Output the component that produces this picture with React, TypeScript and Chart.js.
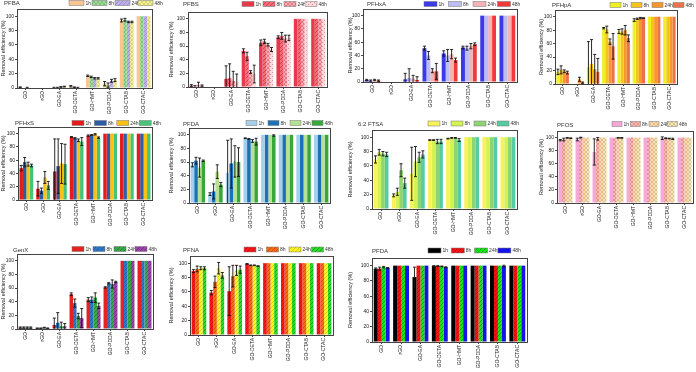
import React, { useEffect, useRef } from "react";
import { Chart, registerables } from "chart.js";
Chart.register(...registerables);
Chart.defaults.font.family = "'Liberation Sans', Arial, sans-serif";

const categories = ["GO", "rGO", "GO-EA", "GO-DETA", "GO-HMT", "GO-PDDA", "GO-CTAB", "GO-CTAC"];
const timeLabels = ["1h", "8h", "24h", "48h"];
const yTickValues = [0, 20, 40, 60, 80, 100];
const yAxisTitle = "Removal efficiency (%)";

// ---- values (rows: 1h, 8h, 24h, 48h) and error bars ----
const pfbaValues = [
  [1, 0, 0.5, 2.5, 17, 6, 94, 100],
  [0, 0, 0.5, 1, 15.5, 4, 95, 100],
  [0.5, 0, 1.5, 0.5, 13.5, 10, 92, 100],
  [0, 0, 2, 0, 13.5, 11, 92, 100],
];
const pfbaErrors = [
  [0.5, 0, 0.5, 1, 1, 3, 2, 0],
  [0, 0, 0.5, 0.5, 1, 3, 2, 0],
  [0.5, 0, 0.5, 0.5, 1, 2, 1, 0],
  [0, 0, 0.5, 0, 1, 2, 1, 0],
];
const pfbsValues = [
  [2, 0, 12, 53, 65, 73, 100, 100],
  [1, 0, 13, 45, 67, 75, 100, 100],
  [3, 0, 9, 22, 62, 71, 100, 100],
  [2, 0, 7, 19, 55, 72, 100, 100],
];
const pfbsErrors = [
  [1.5, 0, 19, 3, 4, 2, 0, 0],
  [1, 0, 21, 6, 3, 5, 0, 0],
  [4, 0, 14, 2, 2, 5, 0, 0],
  [1, 0, 12, 13, 3, 4, 0, 0],
];
const pfhxaValues = [
  [3, 0, 4, 51, 43, 52, 100, 100],
  [2, 0, 6, 40, 40, 51, 100, 100],
  [3, 0.5, 5, 17, 42, 54, 100, 100],
  [2, 0, 3, 16, 33, 57, 100, 100],
];
const pfhxaErrors = [
  [1, 0, 9, 3, 4, 2, 0, 0],
  [1, 0, 14, 6, 9, 3, 0, 0],
  [1, 0, 5, 3, 7, 4, 0, 0],
  [1, 0, 5, 12, 3, 2, 0, 0],
];
const pfhpaValues = [
  [18, 1, 25, 83, 78, 95, 100, 100],
  [21, 1, 30, 81, 78, 97, 100, 100],
  [19, 7, 22, 63, 80, 98, 100, 100],
  [17, 2, 18, 56, 68, 98, 100, 100],
];
const pfhpaErrors = [
  [4, 0, 38, 1, 3, 2, 0, 0],
  [6, 0, 36, 5, 4, 1, 0, 0],
  [2, 3, 22, 4, 7, 1, 0, 0],
  [2, 1, 20, 19, 5, 0.5, 0, 0],
];
const pfhxsValues = [
  [48, 17, 43, 95, 97, 100, 100, 100],
  [57, 14, 51, 93, 98, 100, 100, 100],
  [54, 34, 55, 90, 99, 100, 100, 100],
  [52, 22, 54, 88, 94, 100, 100, 100],
];
const pfhxsErrors = [
  [4, 11, 49, 0.5, 1, 0, 0, 0],
  [7, 4, 41, 1, 0.5, 0, 0, 0],
  [3, 9, 30, 2, 1, 0, 0, 0],
  [2, 6, 30, 6, 1, 0, 0, 0],
];
const pfdaValues = [
  [56, 13, 44, 95, 100, 100, 100, 100],
  [62, 17, 58, 94, 100, 100, 100, 100],
  [52, 46, 61, 91, 100, 100, 100, 100],
  [62, 27, 60, 90, 99, 100, 100, 100],
];
const pfdaErrors = [
  [3, 2, 48, 0.5, 0, 0, 0, 0],
  [5, 11, 36, 0.5, 0, 0, 0, 0],
  [14, 10, 23, 2, 0, 0, 0, 0],
  [1, 3, 21, 5, 1, 0, 0, 0],
];
const ftsaValues = [
  [69, 19, 49, 96, 98, 100, 100, 100],
  [79, 24, 66, 96, 99, 100, 100, 100],
  [77, 54, 72, 94, 99, 100, 100, 100],
  [76, 36, 76, 94, 96, 100, 100, 100],
];
const ftsaErrors = [
  [5, 2, 37, 0.5, 0.5, 0, 0, 0],
  [4, 5, 21, 0.5, 0.5, 0, 0, 0],
  [3, 9, 7, 3, 0.5, 0, 0, 0],
  [3, 7, 5, 3, 2, 0, 0, 0],
];
const pfosValues = [
  [96, 97, 78, 100, 100, 100, 99, 100],
  [97, 100, 98, 100, 100, 100, 99, 100],
  [99.5, 100, 100, 99.5, 100, 100, 98.5, 100],
  [99, 100, 100, 99.5, 100, 100, 98, 100],
];
const pfosErrors = [
  [1, 2, 20, 0, 0, 0, 2, 0],
  [2, 0.5, 2, 0, 0, 0, 0.5, 0],
  [0.5, 0, 0, 0.5, 0, 0, 0.5, 0],
  [0.5, 0, 0, 0.5, 0, 0, 1, 0],
];
const genxValues = [
  [2, 1, 6, 51, 43, 61, 100, 100],
  [2, 1, 9, 38, 43, 67, 100, 100],
  [2, 2, 4, 19, 46, 66, 100, 100],
  [2, 1, 4, 16, 34, 69, 100, 100],
];
const genxErrors = [
  [1, 0.5, 10, 2, 3, 1, 0, 0],
  [1, 0.5, 15, 6, 4, 1, 0, 0],
  [1, 0.5, 6, 4, 7, 6, 0, 0],
  [1, 0.5, 4, 14, 4, 1, 0, 0],
];
const pfnaValues = [
  [89, 59, 61, 99, 100, 100, 100, 100],
  [92, 74, 82, 97, 100, 100, 100, 100],
  [93, 93, 90, 97, 100, 100, 100, 100],
  [93, 83, 91, 96, 100, 100, 100, 100],
];
const pfnaErrors = [
  [2, 3, 34, 0.5, 0, 0, 0, 0],
  [4, 8, 15, 0.5, 0, 0, 0, 0],
  [2, 8, 7, 0.5, 0, 0, 0, 0],
  [2, 4, 5, 0.5, 0, 0, 0, 0],
];
const pfda2Values = [
  [96, 100, 85, 99.5, 100, 100, 100, 100],
  [96, 100, 100, 99.5, 100, 100, 100, 100],
  [98, 100, 100, 99, 100, 100, 100, 100],
  [97, 100, 100, 98, 100, 100, 99.5, 100],
];
const pfda2Errors = [
  [1, 0, 13, 0.5, 0, 0, 0, 0],
  [2, 0, 0, 0.5, 0, 0, 0, 0],
  [1, 0, 0, 0.5, 0, 0, 0, 0],
  [0.5, 0, 0, 0.5, 0, 0, 1, 0],
];

type FillSpec = [string, string, string?];

interface PanelCfg {
  name: string;
  values: number[][];
  errors: number[][];
  fills: FillSpec[];
  box: [number, number, number, number]; // canvas l,t,r,b
  plot: [number, number, number, number]; // plot l,t(=110),r,b(=0)
  title: [number, number];
  legend: [number, number, number, number]; // x, y, step, swatch width
}

const COLS = [0, 168, 347, 538, 696];
const ROWS = [0, 116, 243, 372];

const panels: PanelCfg[] = [
  {
    name: "PFBA", values: pfbaValues, errors: pfbaErrors,
    fills: [["solid", "#F9C593"], ["cross", "#A2D99C", "#6FBF6C"], ["diag", "#BEB0E6", "#9886D2"], ["cross", "#F3EF9A", "#D6CE5E"]],
    box: [COLS[0], ROWS[0], COLS[1], ROWS[1]], plot: [17, 9, 152, 88], title: [4, 3], legend: [69, 3, 23, 15],
  },
  {
    name: "PFBS", values: pfbsValues, errors: pfbsErrors,
    fills: [["solid", "#E8394A"], ["diag", "#EF6C7A", "#D63444"], ["cross", "#F4AEB4", "#E06A76"], ["dots", "#FAD8DB", "#E8949C"]],
    box: [COLS[1], ROWS[0], COLS[2], ROWS[1]], plot: [188, 12, 327, 87], title: [183, 4], legend: [242, 4, 21, 12],
  },
  {
    name: "PFHxA", values: pfhxaValues, errors: pfhxaErrors,
    fills: [["solid", "#3A3AE8"], ["solid", "#BDBDF2"], ["solid", "#F5B4B4"], ["solid", "#F23838"]],
    box: [COLS[2], ROWS[0], COLS[3], ROWS[1]], plot: [363, 9, 517, 82], title: [367, 4], legend: [424, 4, 24.5, 13],
  },
  {
    name: "PFHpA", values: pfhpaValues, errors: pfhpaErrors,
    fills: [["solid", "#EEF024"], ["solid", "#F6C21C"], ["solid", "#F5962E"], ["solid", "#EF714A"]],
    box: [COLS[3], ROWS[0], COLS[4], ROWS[1]], plot: [555, 10, 677, 84], title: [552, 5], legend: [610, 5, 21, 11],
  },
  {
    name: "PFHxS", values: pfhxsValues, errors: pfhxsErrors,
    fills: [["solid", "#E51A1A"], ["solid", "#2D5DA5"], ["solid", "#F9C112"], ["solid", "#45C477"]],
    box: [COLS[0], ROWS[1], COLS[1], ROWS[2]], plot: [18, 127, 152, 200], title: [15, 123], legend: [72, 123, 22.4, 12],
  },
  {
    name: "PFDA", values: pfdaValues, errors: pfdaErrors,
    fills: [["solid", "#A6CFEA"], ["solid", "#1C72B8"], ["solid", "#B4E195"], ["solid", "#36A83A"]],
    box: [COLS[1], ROWS[1], COLS[2], ROWS[2]], plot: [189, 128, 330, 203], title: [183, 124], legend: [246, 123, 22, 11],
  },
  {
    name: "6:2 FTSA", values: ftsaValues, errors: ftsaErrors,
    fills: [["solid", "#F9F25A"], ["solid", "#D4F156"], ["solid", "#8ED474"], ["solid", "#57CBA2"]],
    box: [COLS[2], ROWS[1], COLS[3], ROWS[2]], plot: [372, 130, 517, 209], title: [358, 124], legend: [428, 123.5, 23, 12],
  },
  {
    name: "PFOS", values: pfosValues, errors: pfosErrors,
    fills: [["solid", "#F6A8D8"], ["cross", "#F4BCB4", "#E08A80"], ["cross", "#FADBB6", "#E6B47E"], ["cross", "#F3E6BC", "#D4BC84"]],
    box: [COLS[3], ROWS[1], COLS[4], ROWS[2]], plot: [557, 131, 693, 203], title: [557, 125], legend: [612, 124, 18.5, 10],
  },
  {
    name: "GenX", values: genxValues, errors: genxErrors,
    fills: [["solid", "#E42222"], ["diag", "#3078C6", "#1E5A9E"], ["diag", "#38A848", "#207E30"], ["diag", "#9646A6", "#6E2A80"]],
    box: [COLS[0], ROWS[2], COLS[1], ROWS[3]], plot: [17, 254, 153, 329], title: [13, 250], legend: [72, 249, 21, 12],
  },
  {
    name: "PFNA", values: pfnaValues, errors: pfnaErrors,
    fills: [["diag", "#F41818", "#D80808"], ["diag", "#F26E14", "#D04400"], ["diag", "#F8F42C", "#DCC000"], ["diag", "#2ADA2A", "#12A012"]],
    box: [COLS[1], ROWS[2], COLS[2], ROWS[3]], plot: [190, 256, 333, 335], title: [183, 250], legend: [244, 249.5, 22.5, 12],
  },
  {
    name: "PFDA", values: pfda2Values, errors: pfda2Errors,
    fills: [["solid", "#000000"], ["diag", "#F01414", "#C80000"], ["diag", "#18E418", "#0A9A0A"], ["solid", "#1414E6"]],
    box: [COLS[2], ROWS[2], 580, ROWS[3]], plot: [372, 258, 527, 342], title: [372, 251], legend: [428, 250.5, 23.3, 13],
  },
];

function makeFill(spec: FillSpec): string | CanvasPattern {
  const [type, bg, fg] = spec;
  if (type === "solid") return bg;
  const c = document.createElement("canvas");
  const s = 4;
  c.width = s;
  c.height = s;
  const g = c.getContext("2d")!;
  g.fillStyle = bg;
  g.fillRect(0, 0, s, s);
  g.strokeStyle = fg || "#000";
  g.fillStyle = fg || "#000";
  g.lineWidth = 0.8;
  if (type === "diag" || type === "cross") {
    g.beginPath();
    g.moveTo(0, s); g.lineTo(s, 0);
    g.moveTo(-1, 1); g.lineTo(1, -1);
    g.moveTo(s - 1, s + 1); g.lineTo(s + 1, s - 1);
    g.stroke();
  }
  if (type === "cross") {
    g.beginPath();
    g.moveTo(0, 0); g.lineTo(s, s);
    g.moveTo(-1, s - 1); g.lineTo(1, s + 1);
    g.moveTo(s - 1, -1); g.lineTo(s + 1, 1);
    g.stroke();
  }
  if (type === "dots") {
    g.fillRect(0, 0, 1, 1);
    g.fillRect(2, 2, 1, 1);
  }
  return g.createPattern(c, "repeat")!;
}

const errorBarPlugin = {
  id: "errorBars",
  afterDatasetsDraw(chart: any) {
    const ctx = chart.ctx;
    const y = chart.scales.y;
    ctx.save();
    ctx.strokeStyle = "#111";
    ctx.lineWidth = 0.9;
    chart.data.datasets.forEach((ds: any, i: number) => {
      const meta = chart.getDatasetMeta(i);
      meta.data.forEach((bar: any, j: number) => {
        const e = ds.errors[j];
        if (!e) return;
        const v = ds.data[j];
        const top = y.getPixelForValue(Math.min(v + e, 110));
        const bot = y.getPixelForValue(Math.max(v - e, 0));
        const x = bar.x;
        ctx.beginPath();
        ctx.moveTo(x, top); ctx.lineTo(x, bot);
        ctx.moveTo(x - 1.5, top); ctx.lineTo(x + 1.5, top);
        if (v - e > 0) { ctx.moveTo(x - 1.5, bot); ctx.lineTo(x + 1.5, bot); }
        ctx.stroke();
      });
    });
    ctx.restore();
  },
};

const framePlugin = {
  id: "frame",
  afterDraw(chart: any) {
    const { ctx, chartArea: a } = chart;
    ctx.save();
    ctx.strokeStyle = "#444";
    ctx.lineWidth = 1;
    ctx.strokeRect(Math.round(a.left) + 0.5, Math.round(a.top) + 0.5, Math.round(a.right - a.left), Math.round(a.bottom - a.top));
    ctx.restore();
  },
};

function makeHeaderPlugin(cfg: PanelCfg) {
  return {
    id: "header",
    afterDraw(chart: any) {
      const ctx = chart.ctx;
      const ox = cfg.box[0];
      const oy = cfg.box[1];
      ctx.save();
      ctx.font = "6px 'Liberation Sans', Arial, sans-serif";
      ctx.fillStyle = "#333";
      ctx.textBaseline = "middle";
      ctx.textAlign = "left";
      ctx.fillText(cfg.name, cfg.title[0] - ox, cfg.title[1] - oy);
      ctx.font = "5px 'Liberation Sans', Arial, sans-serif";
      const [lx, ly, step, sw] = cfg.legend;
      chart.data.datasets.forEach((ds: any, i: number) => {
        const x = lx - ox + i * step;
        const yy = ly - oy;
        ctx.fillStyle = ds.backgroundColor;
        ctx.fillRect(x, yy - 2.5, sw, 5);
        ctx.strokeStyle = "#777";
        ctx.lineWidth = 0.5;
        ctx.strokeRect(x, yy - 2.5, sw, 5);
        ctx.fillStyle = "#333";
        ctx.fillText(ds.label, x + sw + 1.5, yy + 0.3);
      });
      ctx.restore();
    },
  };
}

function Panel({ cfg }: { cfg: PanelCfg }) {
  const ref = useRef<HTMLCanvasElement>(null);
  const [bl, bt, br, bb] = cfg.box;
  const [pl, pt, pr, pb] = cfg.plot;
  const W = br - bl;
  const H = bb - bt;
  useEffect(() => {
    const canvas = ref.current!;
    const yW = pl - bl;
    const xH = bb - pb;
    const chart = new Chart(canvas, {
      type: "bar",
      data: {
        labels: categories,
        datasets: cfg.values.map((v, i) => ({
          label: timeLabels[i],
          data: v,
          errors: cfg.errors[i],
          backgroundColor: makeFill(cfg.fills[i]) as any,
          borderWidth: 0,
          categoryPercentage: 0.82,
          barPercentage: 1.0,
        })) as any,
      },
      options: {
        animation: false,
        responsive: false,
        devicePixelRatio: 1,
        layout: { padding: { top: pt - bt, right: br - pr, left: 0, bottom: 0 } },
        plugins: { legend: { display: false }, tooltip: { enabled: false }, title: { display: false } },
        scales: {
          x: {
            grid: { display: true, drawOnChartArea: false, tickLength: 2, color: "#444", offset: false },
            border: { display: true, color: "#444", width: 1 },
            ticks: { minRotation: 90, maxRotation: 90, autoSkip: false, font: { size: 5 }, color: "#222", padding: 1 },
            afterFit: (s: any) => { s.height = xH; },
          },
          y: {
            min: 0,
            max: 110,
            ticks: { stepSize: 20, font: { size: 5 }, color: "#222", padding: 1 },
            afterBuildTicks: (s: any) => { s.ticks = yTickValues.map((v) => ({ value: v })); },
            grid: { display: true, drawOnChartArea: false, tickLength: 2, color: "#444" },
            border: { display: true, color: "#444", width: 1 },
            title: { display: true, text: yAxisTitle, font: { size: 5.5 }, color: "#222", padding: 0 },
            afterFit: (s: any) => { s.width = yW; },
          },
        },
      } as any,
      plugins: [errorBarPlugin, framePlugin, makeHeaderPlugin(cfg)],
    });
    return () => chart.destroy();
  }, []);
  return (
    <canvas
      ref={ref}
      width={W}
      height={H}
      style={{ position: "absolute", left: bl, top: bt, width: W, height: H }}
    />
  );
}

export default function App() {
  return (
    <div style={{ position: "absolute", left: 0, top: 0, width: 696, height: 372, background: "#fff", overflow: "hidden" }}>
      {panels.map((p, i) => (
        <Panel key={i} cfg={p} />
      ))}
    </div>
  );
}
